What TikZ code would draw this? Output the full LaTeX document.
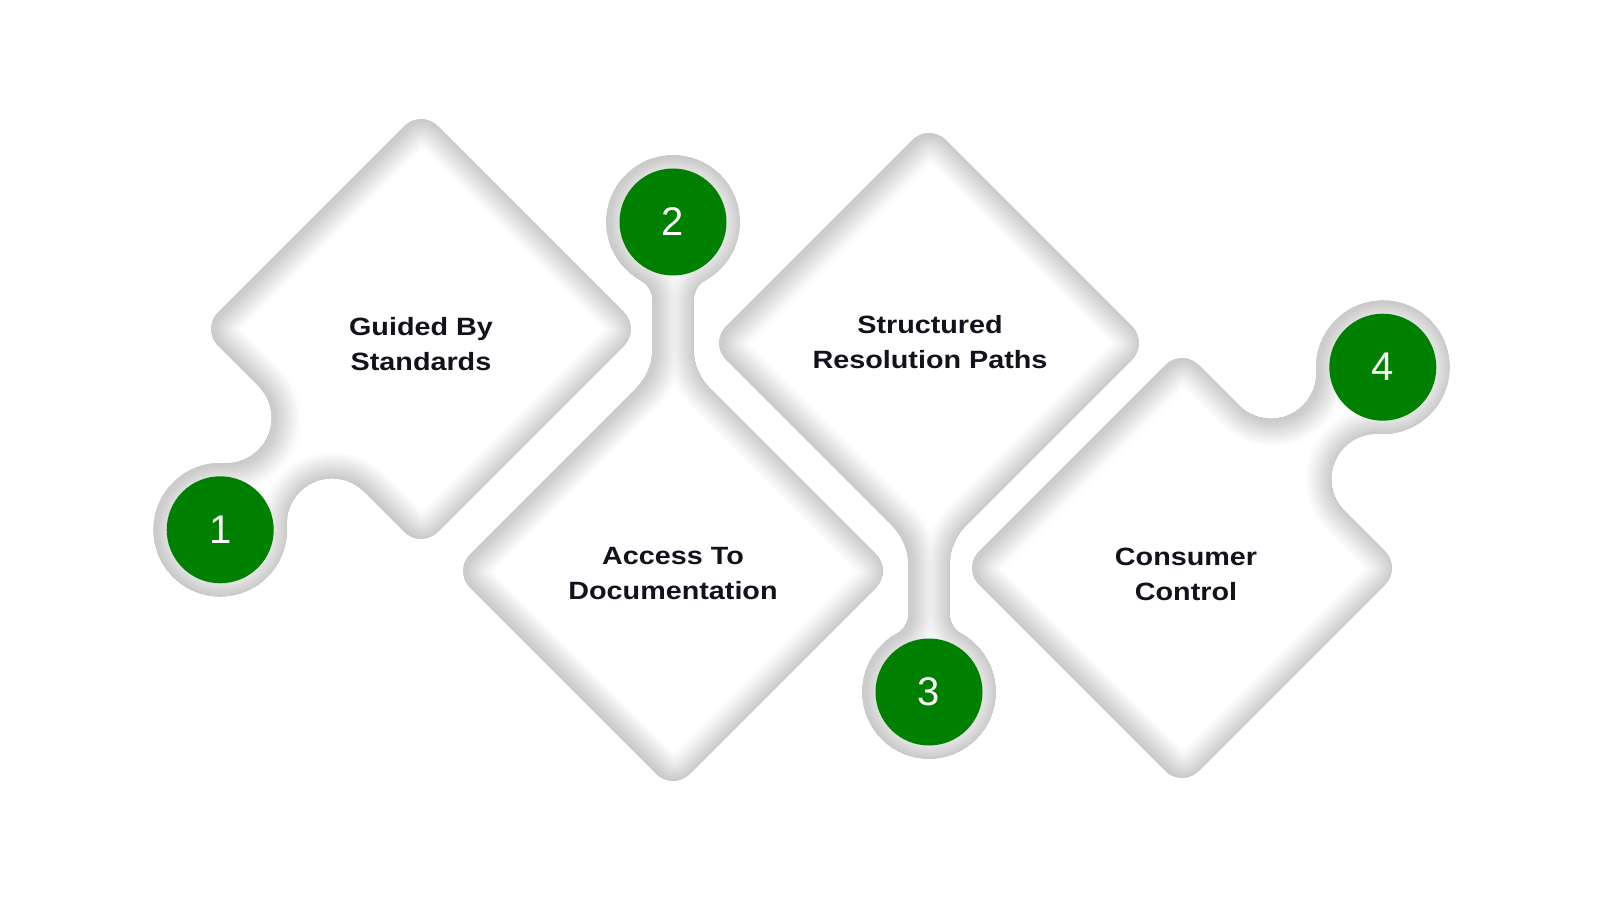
\documentclass[tikz,border=0pt]{standalone}
\usepackage{fontspec}
\setmainfont{Liberation Sans}
\newfontfamily\labelfont[FakeStretch=1.15]{Liberation Sans}
\definecolor{nodegreen}{RGB}{0,128,0}
\definecolor{textdark}{RGB}{18,18,28}
% diamond with a round tab on one side (local frame, tab towards +x)
\newcommand\shapetab{(155.56,-131.56) -- (155.56,-74.75)
  arc[start angle=180,end angle=41.87,radius=45pt]
  arc[start angle=-138.13,end angle=138.13,radius=67pt]
  arc[start angle=-41.87,end angle=-180,radius=45pt]
  -- (155.56,131.56) arc[start angle=0,end angle=90,radius=24pt]
  -- (-131.56,155.56) arc[start angle=90,end angle=180,radius=24pt]
  -- (-155.56,-131.56) arc[start angle=180,end angle=270,radius=24pt]
  -- (131.56,-155.56) arc[start angle=270,end angle=360,radius=24pt]
  -- cycle}
% diamond with a round tab on a stem at its top corner (local frame, stem towards +y)
\newcommand\shapeneck{(203.03,-16.97) arc[start angle=-45,end angle=45,radius=24pt]
  -- (37.11,182.89) arc[start angle=225,end angle=180,radius=55pt]
  -- (21,271.08) arc[start angle=180,end angle=118.89,radius=22pt]
  arc[start angle=-61.11,end angle=241.11,radius=67pt]
  arc[start angle=61.11,end angle=0,radius=22pt]
  -- (-21,221.78) arc[start angle=0,end angle=-45,radius=55pt]
  -- (-203.03,16.97) arc[start angle=135,end angle=225,radius=24pt]
  -- (-16.97,-203.03) arc[start angle=225,end angle=315,radius=24pt]
  -- cycle}
% #1 = outline, #2 = offset of the directional part of the inner shadow (local frame)
\newcommand\insetshade[2]{%
  \fill[white] #1;
  \begin{scope}
    \clip #1;
    \foreach \k [evaluate=\k as \w using \k*3.0] in {1,...,18}{%
      \draw[line width=\w pt, draw=black, opacity=0.0068, line join=round] #1;}
    \begin{scope}[shift={(#2)}]
      \foreach \k [evaluate=\k as \w using \k*3.0] in {1,...,18}{%
        \draw[line width=\w pt, draw=black, opacity=0.005, line join=round] #1;}
    \end{scope}
  \end{scope}}
\begin{document}
\begin{tikzpicture}[x=1pt,y=1pt,
  numcirc/.style={circle, fill=nodegreen, text=white, minimum size=107pt,
    inner sep=0pt, font=\fontsize{40}{40}\selectfont},
  stepname/.style={text=textdark, align=center,
    font=\labelfont\bfseries\fontsize{25}{35}\selectfont}]
\useasboundingbox (0,0) rectangle (1600,900);
\fill[white] (0,0) rectangle (1600,900);

\begin{scope}[shift={(421,571)},rotate=225]
  \insetshade{\shapetab}{-2.2,4.9}
  \coordinate (c1) at (283.96,0);
\end{scope}
\begin{scope}[shift={(673,329)}]
  \insetshade{\shapeneck}{5,-1.9}
  \coordinate (c2) at (0,349);
\end{scope}
\begin{scope}[shift={(929,557)},rotate=180]
  \insetshade{\shapeneck}{-5,1.9}
  \coordinate (c3) at (0,349);
\end{scope}
\begin{scope}[shift={(1182,332)},rotate=45]
  \insetshade{\shapetab}{2.2,-4.9}
  \coordinate (c4) at (283.96,0);
\end{scope}

\node[numcirc] (n1) at (c1) {1};
\node[numcirc] (n2) at (c2) {2};
\node[numcirc] (n3) at (c3) {3};
\node[numcirc] (n4) at (c4) {4};

\node[stepname] (t1) at (421,555.5) {Guided By\\Standards};
\node[stepname] (t2) at (673,326.5) {Access To\\Documentation};
\node[stepname] (t3) at (930,557.5) {Structured\\Resolution Paths};
\node[stepname] (t4) at (1186,325.5) {Consumer\\Control};
\end{tikzpicture}
\end{document}
